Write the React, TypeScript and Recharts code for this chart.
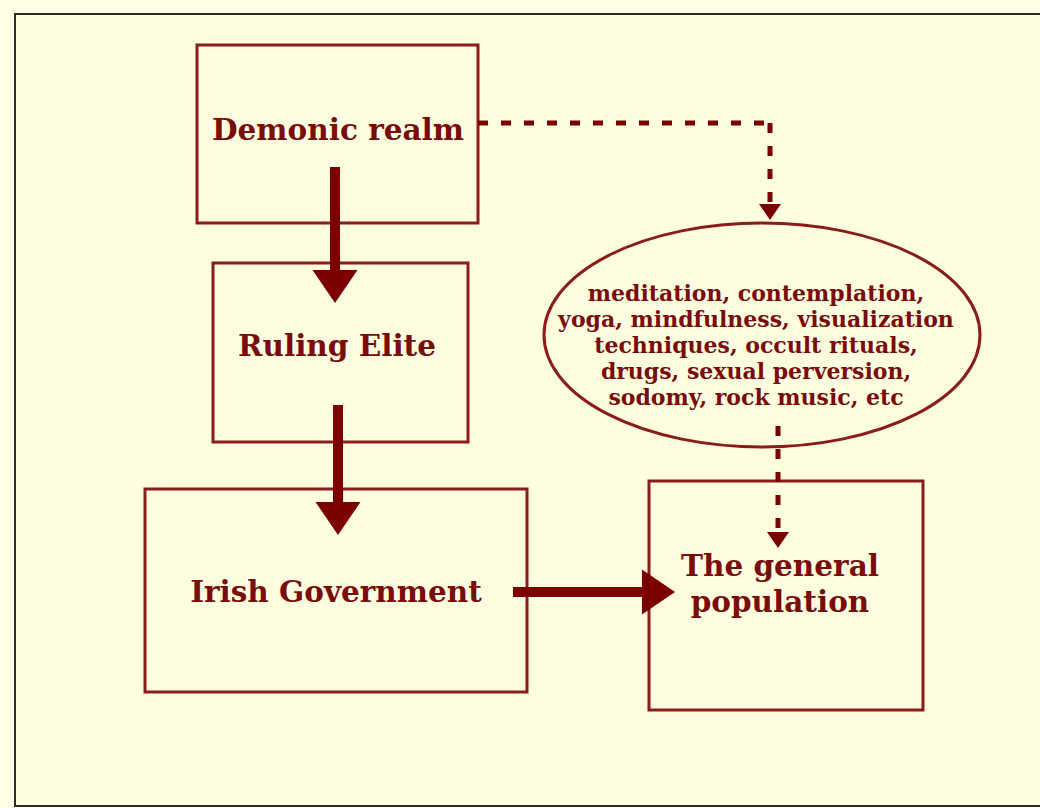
import { ScatterChart, XAxis, YAxis, ReferenceArea, ReferenceLine, Scatter } from 'recharts'

// canvas units = pixels of the original picture
const W = 1040
const H = 808

// boxes
const boxNames = ['Demonic realm', 'Ruling Elite', 'Irish Government', 'The general population']
const boxLeft = [197, 213, 145, 649]
const boxRight = [478, 468, 527, 923]
const boxTop = [45, 263, 489, 481]
const boxBottom = [223, 442, 692, 710]

// box titles
const titleLines = [['Demonic realm'], ['Ruling Elite'], ['Irish Government'], ['The general', 'population']]
const titleX = [338, 337, 336, 780]
const titleY = [130, 346, 592, 584]

// ellipse with the list of practices
const practices = [
  'meditation, contemplation,',
  'yoga, mindfulness, visualization',
  'techniques, occult rituals,',
  'drugs, sexual perversion,',
  'sodomy, rock music, etc',
]
const ellipseX = [762]
const ellipseY = [335]
const ellipseRx = [218]
const ellipseRy = [112]

// solid arrows: start -> tip
const arrowStartX = [335, 338, 513]
const arrowStartY = [167, 405, 592]
const arrowTipX = [335, 338, 675]
const arrowTipY = [303, 535, 592]

// dashed connectors (polylines), last point is the tip
const dashedPaths = [
  [{ x: 478, y: 123 }, { x: 770, y: 123 }, { x: 770, y: 220 }],
  [{ x: 778, y: 426 }, { x: 778, y: 548 }],
]

const RED = '#7d0000'
const BOX = '#8a1c1c'
const TXT = '#7a0c0c'
const FONT = '"DejaVu Serif", serif'

const BIG_HEAD = { len: 33, w: 45 }
const SMALL_HEAD = { len: 16, w: 22 }

function headBack(x0: number, y0: number, x1: number, y1: number, len: number) {
  const d = Math.hypot(x1 - x0, y1 - y0)
  return { x: x1 - ((x1 - x0) / d) * len, y: y1 - ((y1 - y0) / d) * len }
}

const solidTips = arrowTipX.map((x, i) => ({
  x,
  y: arrowTipY[i],
  dx: x - arrowStartX[i],
  dy: arrowTipY[i] - arrowStartY[i],
  big: true,
}))

const dashedTips = dashedPaths.map((p) => {
  const a = p[p.length - 2]
  const b = p[p.length - 1]
  return { x: b.x, y: b.y, dx: b.x - a.x, dy: b.y - a.y, big: false }
})

const titles = titleX.map((x, i) => ({ x, y: titleY[i], lines: titleLines[i] }))
const ellipses = ellipseX.map((x, i) => ({ x, y: ellipseY[i], rx: ellipseRx[i], ry: ellipseRy[i], lines: practices }))

function Head(props: any) {
  const { cx, cy, payload } = props
  const h = payload.big ? BIG_HEAD : SMALL_HEAD
  const d = Math.hypot(payload.dx, payload.dy)
  const ux = payload.dx / d
  const uy = payload.dy / d
  const bx = cx - ux * h.len
  const by = cy - uy * h.len
  const px = -uy * (h.w / 2)
  const py = ux * (h.w / 2)
  return <polygon points={`${cx},${cy} ${bx + px},${by + py} ${bx - px},${by - py}`} fill={RED} />
}

function Title(props: any) {
  const { cx, cy, payload } = props
  const lines: string[] = payload.lines
  const lh = 36
  const y0 = cy - ((lines.length - 1) * lh) / 2
  return (
    <text x={cx} textAnchor="middle" fontFamily={FONT} fontWeight="bold" fontSize={29.5} fill={TXT}>
      {lines.map((l, i) => (
        <tspan key={i} x={cx} y={y0 + i * lh} dy="0.35em">{l}</tspan>
      ))}
    </text>
  )
}

function Bubble(props: any) {
  const { cx, cy, payload } = props
  const lines: string[] = payload.lines
  const lh = 26
  const y0 = cy + 10 - ((lines.length - 1) * lh) / 2
  return (
    <g>
      <ellipse cx={cx} cy={cy} rx={payload.rx} ry={payload.ry} fill="none" stroke={BOX} strokeWidth={3} />
      <text x={cx} textAnchor="middle" fontFamily={FONT} fontWeight="bold" fontSize={22} fill={TXT}>
        {lines.map((l, i) => (
          <tspan key={i} x={cx - 6} y={y0 + i * lh} dy="0.35em">{l}</tspan>
        ))}
      </text>
    </g>
  )
}

export default function App() {
  return (
    <div style={{ position: 'absolute', left: 0, top: 0, width: W, height: H, background: '#fffde6' }}>
      <ScatterChart width={W} height={H} margin={{ top: 0, right: 0, bottom: 0, left: 0 }}>
        <XAxis type="number" dataKey="x" domain={[0, W]} hide />
        <YAxis type="number" dataKey="y" domain={[0, H]} reversed hide />

        <ReferenceArea x1={15} x2={W + 6} y1={14} y2={806} ifOverflow="visible" fill="#fffddf" fillOpacity={1} stroke="#2b2b2b" strokeWidth={2} />

        {boxNames.map((n, i) => (
          <ReferenceArea
            key={n}
            x1={boxLeft[i]}
            x2={boxRight[i]}
            y1={boxTop[i]}
            y2={boxBottom[i]}
            fill="none"
            stroke={BOX}
            strokeWidth={3}
            ifOverflow="visible"
          />
        ))}

        {arrowStartX.map((x, i) => (
          <ReferenceLine
            key={'a' + i}
            segment={[{ x, y: arrowStartY[i] }, headBack(x, arrowStartY[i], arrowTipX[i], arrowTipY[i], BIG_HEAD.len - 2)]}
            stroke={RED}
            strokeWidth={10}
            ifOverflow="visible"
          />
        ))}

        {dashedPaths.flatMap((p, k) =>
          p.slice(1).map((b, j) => {
            const a = p[j]
            const end = j === p.length - 2 ? headBack(a.x, a.y, b.x, b.y, SMALL_HEAD.len - 1) : b
            return (
              <ReferenceLine
                key={`d${k}-${j}`}
                segment={[a, end]}
                stroke={RED}
                strokeWidth={5}
                strokeDasharray="10 13"
                ifOverflow="visible"
              />
            )
          })
        )}

        <Scatter data={ellipses} shape={Bubble} isAnimationActive={false} />
        <Scatter data={titles} shape={Title} isAnimationActive={false} />
        <Scatter data={[...solidTips, ...dashedTips]} shape={Head} isAnimationActive={false} />
      </ScatterChart>
    </div>
  )
}
